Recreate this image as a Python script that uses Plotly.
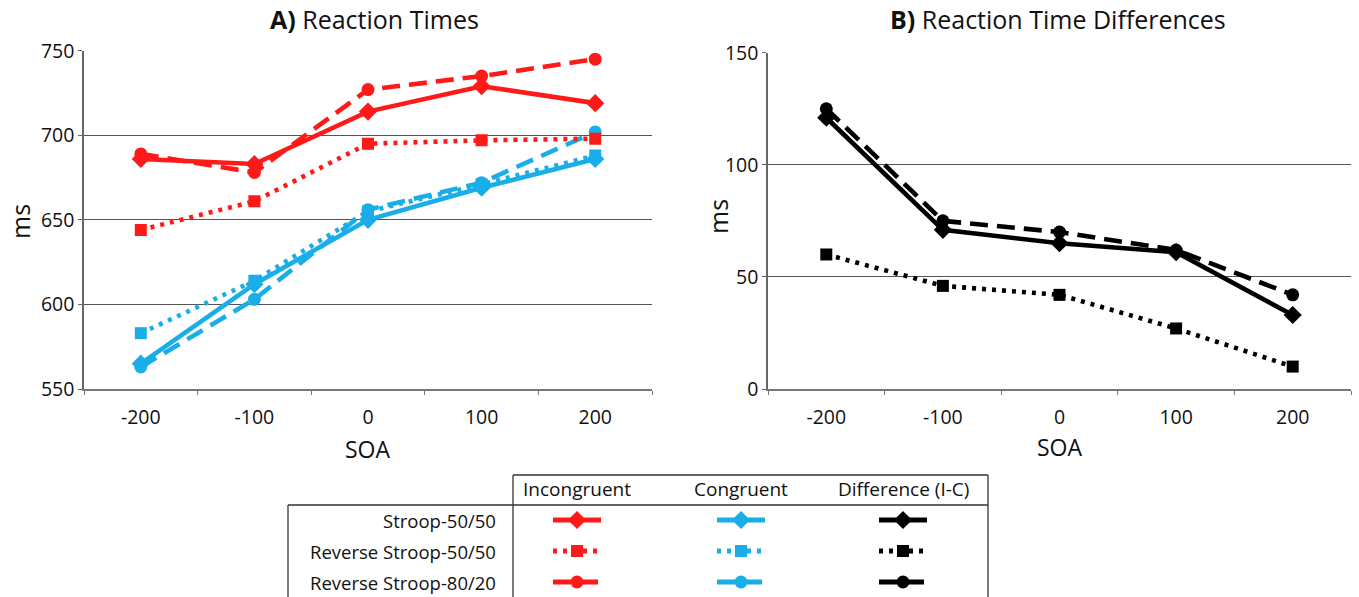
import plotly.graph_objects as go

# ---------------- data ----------------
soa = ["-200", "-100", "0", "100", "200"]

# Panel A: reaction times (ms)
inc_stroop_5050 = [686, 683, 714, 729, 719]
inc_rev_5050 = [644, 661, 695, 697, 698]
inc_rev_8020 = [689, 678, 727, 735, 745]
con_stroop_5050 = [565, 612, 650, 669, 686]
con_rev_5050 = [583, 614, 655, 671, 688]
con_rev_8020 = [563, 603, 656, 672, 702]

# Panel B: differences (I-C)
dif_stroop_5050 = [121, 71, 65, 61, 33]
dif_rev_5050 = [60, 46, 42, 27, 10]
dif_rev_8020 = [125, 75, 70, 62, 42]

conditions = ["Stroop-50/50", "Reverse Stroop-50/50", "Reverse Stroop-80/20"]
columns = ["Incongruent", "Congruent", "Difference (I-C)"]

# ---------------- styles ----------------
RED = "#ff1a1a"
BLUE = "#1aaee8"
BLACK = "#000000"
TXT = "#111111"
FONT = "Open Sans"
W, H = 1359, 597

styles = {
    "Stroop-50/50": dict(dash="solid", symbol="diamond", size=14),
    "Reverse Stroop-50/50": dict(dash="4px,6px", symbol="square", size=12),
    "Reverse Stroop-80/20": dict(dash="18px,9px", symbol="circle", size=13),
}

def px(x):
    return x / W

def py(y):
    return 1 - y / H

fig = go.Figure()

def add_series(xa, ya, y, cond, color):
    st = styles[cond]
    fig.add_trace(go.Scatter(
        x=soa, y=y, xaxis=xa, yaxis=ya, mode="lines+markers",
        line=dict(color=color, width=4.6, dash=st["dash"]),
        marker=dict(symbol=st["symbol"], size=st["size"], color=color, line=dict(width=0)),
        showlegend=False, hoverinfo="skip"))

# Panel A
add_series("x", "y", con_rev_5050, "Reverse Stroop-50/50", BLUE)
add_series("x", "y", con_rev_8020, "Reverse Stroop-80/20", BLUE)
add_series("x", "y", con_stroop_5050, "Stroop-50/50", BLUE)
add_series("x", "y", inc_rev_5050, "Reverse Stroop-50/50", RED)
add_series("x", "y", inc_rev_8020, "Reverse Stroop-80/20", RED)
add_series("x", "y", inc_stroop_5050, "Stroop-50/50", RED)
# Panel B
add_series("x2", "y2", dif_rev_5050, "Reverse Stroop-50/50", BLACK)
add_series("x2", "y2", dif_rev_8020, "Reverse Stroop-80/20", BLACK)
add_series("x2", "y2", dif_stroop_5050, "Stroop-50/50", BLACK)

# ---------------- legend table (overlay axis x3/y3 in pixel units) ----------------
tab_left, tab_mid, tab_right = 288, 513, 988
tab_top, tab_head = 475, 505
col_centers = [577, 741, 903]
row_centers = [520, 551, 582]
col_colors = [RED, BLUE, BLACK]
half = 24

for ci, color in enumerate(col_colors):
    for ri, cond in enumerate(conditions):
        st = styles[cond]
        cx, cy = col_centers[ci], row_centers[ri]
        fig.add_trace(go.Scatter(
            x=[cx - half, cx + half], y=[cy, cy], xaxis="x3", yaxis="y3", mode="lines",
            line=dict(color=color, width=4.8, dash=st["dash"]),
            showlegend=False, hoverinfo="skip"))
        fig.add_trace(go.Scatter(
            x=[cx], y=[cy], xaxis="x3", yaxis="y3", mode="markers",
            marker=dict(symbol=st["symbol"], size=st["size"], color=color, line=dict(width=0)),
            showlegend=False, hoverinfo="skip"))

line_style = dict(color="#333333", width=1.3)
shapes = [
    dict(type="line", xref="x3", yref="y3", x0=tab_mid, x1=tab_right, y0=tab_top, y1=tab_top, line=line_style),
    dict(type="line", xref="x3", yref="y3", x0=tab_left, x1=tab_right, y0=tab_head, y1=tab_head, line=line_style),
    dict(type="line", xref="x3", yref="y3", x0=tab_left, x1=tab_left, y0=tab_head, y1=H + 5, line=line_style),
    dict(type="line", xref="x3", yref="y3", x0=tab_mid, x1=tab_mid, y0=tab_top, y1=H + 5, line=line_style),
    dict(type="line", xref="x3", yref="y3", x0=tab_right, x1=tab_right, y0=tab_top, y1=H + 5, line=line_style),
]

def note(text, x, y, size, xanchor="center", angle=0):
    return dict(text=text, x=x, y=y, xref="x3", yref="y3", showarrow=False, textangle=angle,
                font=dict(family=FONT, size=size, color=TXT), xanchor=xanchor, yanchor="middle")

annotations = []
for ci, name in enumerate(columns):
    annotations.append(note(name, col_centers[ci], 489, 19))
for ri, name in enumerate(conditions):
    annotations.append(note(name, 498, row_centers[ri], 18.5, xanchor="right"))

annotations += [
    note("<b>A)</b> Reaction Times", 374, 19, 25),
    note("<b>B)</b> Reaction Time Differences", 1058, 19, 25),
    note("ms", 20, 222, 25, angle=-90),
    note("ms", 718, 217, 25, angle=-90),
    note("SOA", 368, 449, 23),
    note("SOA", 1060, 447, 23),
]

tickfont = dict(family=FONT, size=19.5, color=TXT)
xcommon = dict(type="category", tickson="boundaries", ticks="outside", ticklen=4,
               tickcolor="#777", showline=True, linecolor="#777", linewidth=1.5,
               showgrid=False, tickfont=tickfont, range=[-0.5, 4.5], fixedrange=True,
               automargin=False, ticklabelstandoff=10)
ycommon = dict(ticks="outside", ticklen=4, tickcolor="#666", showline=True, linecolor="#666",
               linewidth=1.5, showgrid=True, gridcolor="#555", gridwidth=1.2, zeroline=False,
               tickfont=tickfont, fixedrange=True, automargin=False)

fig.update_layout(
    width=W, height=H, margin=dict(l=0, r=0, t=0, b=0, autoexpand=False),
    paper_bgcolor="white", plot_bgcolor="rgba(0,0,0,0)",
    xaxis=dict(domain=[px(84), px(652)], anchor="y", **xcommon),
    yaxis=dict(domain=[py(389), py(50.7)], anchor="x", range=[550, 750], dtick=50, **ycommon),
    xaxis2=dict(domain=[px(768), px(1351)], anchor="y2", **xcommon),
    yaxis2=dict(domain=[py(389), py(52.7)], anchor="x2", range=[0, 150], dtick=50, **ycommon),
    xaxis3=dict(domain=[0, 1], anchor="y3", range=[0, W], visible=False, fixedrange=True, automargin=False),
    yaxis3=dict(domain=[0, 1], anchor="x3", range=[H, 0], visible=False, fixedrange=True, automargin=False),
    shapes=shapes, annotations=annotations, showlegend=False,
)

fig.write_html("out.html", config={"displayModeBar": False},
               post_script="document.body.style.margin='0';")
